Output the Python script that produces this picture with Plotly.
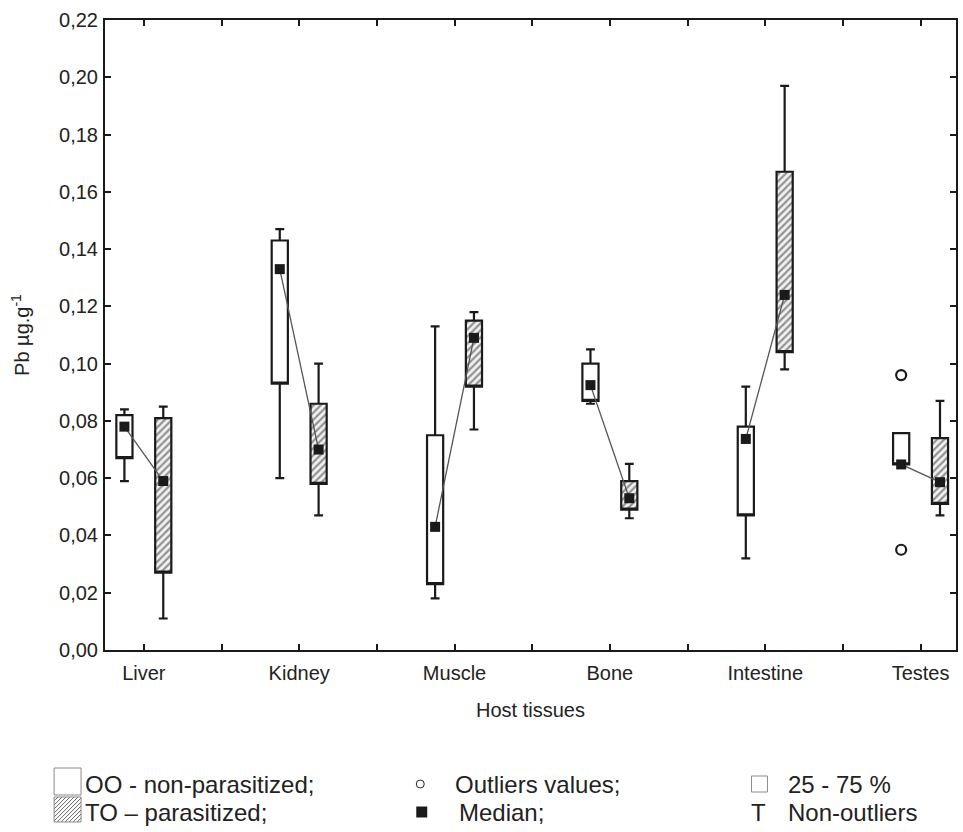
import numpy as np
import plotly.graph_objects as go

# ---------------- data ----------------
categories = ["Liver", "Kidney", "Muscle", "Bone", "Intestine", "Testes"]

# OO - non-parasitized
oo_min = [0.059, 0.060, 0.018, 0.086, 0.032, 0.0648]
oo_q1 = [0.067, 0.093, 0.023, 0.087, 0.047, 0.0648]
oo_med = [0.078, 0.133, 0.043, 0.0925, 0.0737, 0.0648]
oo_q3 = [0.082, 0.143, 0.075, 0.100, 0.078, 0.0757]
oo_max = [0.084, 0.147, 0.113, 0.105, 0.092, 0.0757]

# TO - parasitized
to_min = [0.011, 0.047, 0.077, 0.046, 0.098, 0.047]
to_q1 = [0.027, 0.058, 0.092, 0.049, 0.104, 0.051]
to_med = [0.059, 0.070, 0.109, 0.053, 0.124, 0.0586]
to_q3 = [0.081, 0.086, 0.115, 0.059, 0.167, 0.074]
to_max = [0.085, 0.100, 0.118, 0.065, 0.197, 0.087]

# outliers (Testes, OO)
outlier_cat = [5, 5]
outlier_val = [0.096, 0.035]

y_ticks = [round(0.02 * i, 2) for i in range(12)]

# ---------------- geometry ----------------
W, H = 963, 832
ML, MR, MT, MB = 105, 5, 20, 182
PW = W - ML - MR
PH = H - MT - MB

g = np.arange(len(categories))
off = 0.125
bw = 0.104
x_oo = g - off
x_to = g + off

INK = "#1a1a1a"
TXT = "#222222"
FONT = "Liberation Sans, Arial"

fig = go.Figure()

# hatched fill for parasitized boxes
fig.add_trace(go.Bar(
    x=x_to, base=to_q1, y=np.array(to_q3) - np.array(to_q1), width=bw,
    marker=dict(color="white", line=dict(width=0),
                pattern=dict(shape="/", fgcolor="#333333", bgcolor="#f2f2f2",
                             size=5, solidity=0.45)),
    hoverinfo="skip", showlegend=False))

box_common = dict(line=dict(color=INK, width=2.2), whiskerwidth=0.55,
                  width=bw, boxpoints=False, hoverinfo="skip", showlegend=False)

# OO boxes (median marker drawn separately as squares)
fig.add_trace(go.Box(x=x_oo, q1=oo_q1, median=oo_q1, q3=oo_q3,
                     lowerfence=oo_min, upperfence=oo_max,
                     fillcolor="white", **box_common))
# TO boxes
fig.add_trace(go.Box(x=x_to, q1=to_q1, median=to_q1, q3=to_q3,
                     lowerfence=to_min, upperfence=to_max,
                     fillcolor="rgba(0,0,0,0)", **box_common))

# connecting lines between medians
lx, ly = [], []
for i in range(len(categories)):
    lx += [x_oo[i], x_to[i], None]
    ly += [oo_med[i], to_med[i], None]
fig.add_trace(go.Scatter(x=lx, y=ly, mode="lines",
                         line=dict(color="#555555", width=1.3),
                         hoverinfo="skip", showlegend=False))

# median markers
fig.add_trace(go.Scatter(x=np.concatenate([x_oo, x_to]),
                         y=oo_med + to_med, mode="markers",
                         marker=dict(symbol="square", size=10, color=INK),
                         hoverinfo="skip", showlegend=False))

# outliers
fig.add_trace(go.Scatter(x=np.array(outlier_cat) - off, y=outlier_val,
                         mode="markers",
                         marker=dict(symbol="circle-open", size=10,
                                     color=INK, line=dict(width=2.2)),
                         hoverinfo="skip", showlegend=False))

# ---------------- axes ----------------
axis_common = dict(showline=True, linewidth=2, linecolor=INK, mirror="ticks",
                   ticks="inside", ticklen=6, tickwidth=2, tickcolor=INK,
                   showgrid=False, zeroline=False,
                   tickfont=dict(family=FONT, size=20, color=TXT))

fig.update_xaxes(range=[-0.25, 5.228], tickvals=list(g), ticktext=categories,
                 ticklabelstandoff=4,
                 minor=dict(tickvals=[i + 0.5 for i in range(5)], ticks="inside",
                            ticklen=6, tickwidth=2, tickcolor=INK, showgrid=False),
                 title=dict(text="Host tissues", standoff=20,
                            font=dict(family=FONT, size=20, color=TXT)),
                 **axis_common)
fig.update_yaxes(range=[0, 0.22], tickvals=y_ticks, tickformat=".2f",
                 ticklabelstandoff=1,
                 title=dict(text="Pb µg.g<sup>-1</sup>", standoff=24,
                            font=dict(family=FONT, size=20, color=TXT)),
                 **axis_common)

# ---------------- custom legend ----------------
def px(x):
    return (x - ML) / PW

def py(y):
    return (MT + PH - y) / PH

shapes = []
annotations = []
LF = dict(family=FONT, size=24, color=TXT)

def rect(x0, y0, x1, y1, color="#8a8a8a", width=1, fill="rgba(0,0,0,0)"):
    shapes.append(dict(type="rect", xref="paper", yref="paper",
                       x0=px(x0), x1=px(x1), y0=py(y1), y1=py(y0),
                       line=dict(color=color, width=width), fillcolor=fill))

def hatch(x0, y0, x1, y1, step=4.0):
    path = ""
    c = x0 + y0 + step
    while c < x1 + y1:
        sx = max(x0, c - y1)
        sy = c - sx
        ex = min(x1, c - y0)
        ey = c - ex
        path += f"M {px(sx):.5f} {py(sy):.5f} L {px(ex):.5f} {py(ey):.5f} "
        c += step
    shapes.append(dict(type="path", xref="paper", yref="paper", path=path,
                       line=dict(color="#6a6a6a", width=1)))

def text(x, y, s):
    annotations.append(dict(xref="paper", yref="paper", x=px(x), y=py(y),
                            text=s, showarrow=False, xanchor="left",
                            yanchor="middle", font=LF))

R1, R2 = 784, 812
# column 1
rect(54, 768, 81, 795)
hatch(54, 797, 81, 822)
rect(54, 797, 81, 822)
text(83, R1, "OO - non-parasitized;")
text(83, R2, "TO – parasitized;")
# column 2
shapes.append(dict(type="circle", xref="paper", yref="paper",
                   x0=px(417), x1=px(425), y0=py(R1 + 4), y1=py(R1 - 4),
                   line=dict(color=TXT, width=1)))
rect(417, R2 - 5.5, 428, R2 + 5.5, color=INK, width=0, fill=INK)
text(454, R1, "Outliers values;")
text(458, R2, "Median;")
# column 3
rect(753, R1 - 8, 769, R1 + 8)
text(751, R2, "T")
text(788, R1, "25 - 75 %")
text(788, R2, "Non-outliers")

fig.update_layout(width=W, height=H,
                  margin=dict(l=ML, r=MR, t=MT, b=MB),
                  plot_bgcolor="white", paper_bgcolor="white",
                  separators=", ", bargap=0, showlegend=False,
                  shapes=shapes, annotations=annotations,
                  font=dict(family=FONT, color=TXT))

fig.write_html("out.html", config={"displayModeBar": False},
               post_script="document.body.style.margin='0';document.body.style.overflow='hidden';")
